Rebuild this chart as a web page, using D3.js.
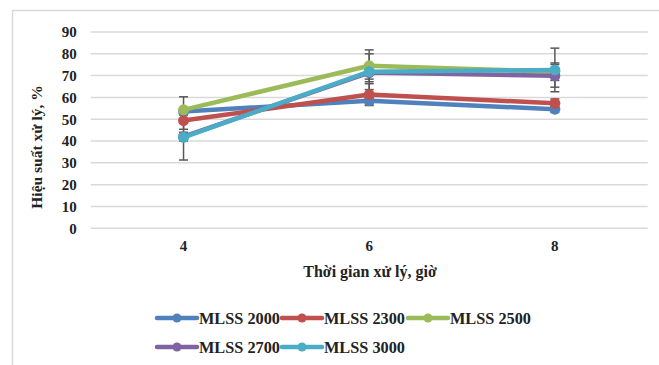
<!DOCTYPE html>
<html><head><meta charset="utf-8">
<script src="https://cdn.jsdelivr.net/npm/d3@7/dist/d3.min.js"></script>
<style>body{margin:0;background:#fff}svg{display:block}</style>
</head><body>
<svg id="c" width="659" height="365"></svg>
<script>
const categories = ["4", "6", "8"];
const seriesNames = ["MLSS 2000", "MLSS 2300", "MLSS 2500", "MLSS 2700", "MLSS 3000"];
const mlss2000 = [53.5, 58.5, 54.6];
const mlss2300 = [49.4, 61.3, 57.3];
const mlss2500 = [54.3, 74.5, 71.8];
const mlss2700 = [42.0, 71.4, 69.9];
const mlss3000 = [41.7, 71.8, 72.6];
const err2000 = [1.5, 1.5, 1.5];
const err2300 = [4.0, 5.0, 2.0];
const err2500 = [6.0, 7.3, 4.0];
const err2700 = [2.0, 3.0, 5.2];
const err3000 = [10.4, 8.2, 10.0];
const yTicks = [0, 10, 20, 30, 40, 50, 60, 70, 80, 90];
const colors = ["#4F81BD", "#C0504D", "#9BBB59", "#8064A2", "#4BACC6"];

const values = [mlss2000, mlss2300, mlss2500, mlss2700, mlss3000];
const errs = [err2000, err2300, err2500, err2700, err3000];
const series = seriesNames.map((n, i) => ({name: n, color: colors[i],
  pts: categories.map((c, j) => ({c, v: values[i][j], e: errs[i][j]}))}));

const svg = d3.select("#c");
const font = "'Liberation Serif','Times New Roman',serif";
const L = 90.7, R = 647.7, T = 32, B = 228.3;

svg.append("rect").attr("x", 12.5).attr("y", 10.5).attr("width", 680).attr("height", 380)
  .attr("fill", "#fff").attr("stroke", "#d9d9d9").attr("stroke-width", 1.5);

const x = d3.scaleBand().domain(categories).range([L, R]);
const y = d3.scaleLinear().domain([0, 90]).range([B, T]);
const cx = c => x(c) + x.bandwidth() / 2;

// gridlines
svg.append("g").selectAll("line").data(yTicks).join("line")
  .attr("x1", L).attr("x2", R).attr("y1", d => y(d)).attr("y2", d => y(d))
  .attr("stroke", "#d9d9d9").attr("stroke-width", 1.5);

// y axis labels
const ya = svg.append("g").attr("transform", `translate(${L - 8},0)`)
  .call(d3.axisLeft(y).tickValues(yTicks).tickSize(0).tickPadding(6));
ya.select(".domain").remove();
ya.selectAll("text").attr("font-family", font).attr("font-weight", "bold")
  .attr("font-size", 15).attr("fill", "#222");

// x axis labels
const xa = svg.append("g").attr("transform", `translate(0,${B})`)
  .call(d3.axisBottom(x).tickSize(0).tickPadding(12));
xa.select(".domain").remove();
xa.selectAll("text").attr("font-family", font).attr("font-weight", "bold")
  .attr("font-size", 15).attr("fill", "#222");

// titles
svg.append("text").attr("transform", `translate(42,147) rotate(-90)`)
  .attr("text-anchor", "middle").attr("font-family", font).attr("font-weight", "bold")
  .attr("font-size", 15.5).attr("fill", "#222").text("Hiệu suất xử lý, %");
svg.append("text").attr("x", 370).attr("y", 277).attr("text-anchor", "middle")
  .attr("font-family", font).attr("font-weight", "bold").attr("font-size", 16)
  .attr("fill", "#222").text("Thời gian xử lý, giờ");

// error bars
const eg = svg.append("g").attr("stroke", "#595959").attr("stroke-width", 1.5);
series.forEach(s => s.pts.forEach(p => {
  const X = cx(p.c);
  eg.append("line").attr("x1", X).attr("x2", X).attr("y1", y(p.v - p.e)).attr("y2", y(p.v + p.e));
  [p.v - p.e, p.v + p.e].forEach(v => eg.append("line").attr("x1", X - 4.5).attr("x2", X + 4.5)
    .attr("y1", y(v)).attr("y2", y(v)));
}));

// lines + markers
const line = d3.line().x(d => cx(d.c)).y(d => y(d.v));
series.forEach(s => {
  svg.append("path").datum(s.pts).attr("d", line).attr("fill", "none")
    .attr("stroke", s.color).attr("stroke-width", 4.5).attr("stroke-linejoin", "round");
  svg.append("g").selectAll("circle").data(s.pts).join("circle")
    .attr("cx", d => cx(d.c)).attr("cy", d => y(d.v)).attr("r", 5.5).attr("fill", s.color);
});

// legend
const legPos = [[157, 318], [282, 318], [408, 318], [157, 347], [282, 347]];
series.forEach((s, i) => {
  const [lx, ly] = legPos[i];
  const g = svg.append("g").attr("transform", `translate(${lx},${ly})`);
  g.append("line").attr("x1", 0).attr("x2", 40).attr("y1", 0).attr("y2", 0)
    .attr("stroke", s.color).attr("stroke-width", 4.5).attr("stroke-linecap", "round");
  g.append("circle").attr("cx", 20).attr("cy", 0).attr("r", 4.5).attr("fill", s.color);
  g.append("text").attr("x", 42).attr("y", 5.5).attr("font-family", font)
    .attr("font-weight", "bold").attr("font-size", 16.3).attr("fill", "#222").text(s.name);
});
</script>
</body></html>
